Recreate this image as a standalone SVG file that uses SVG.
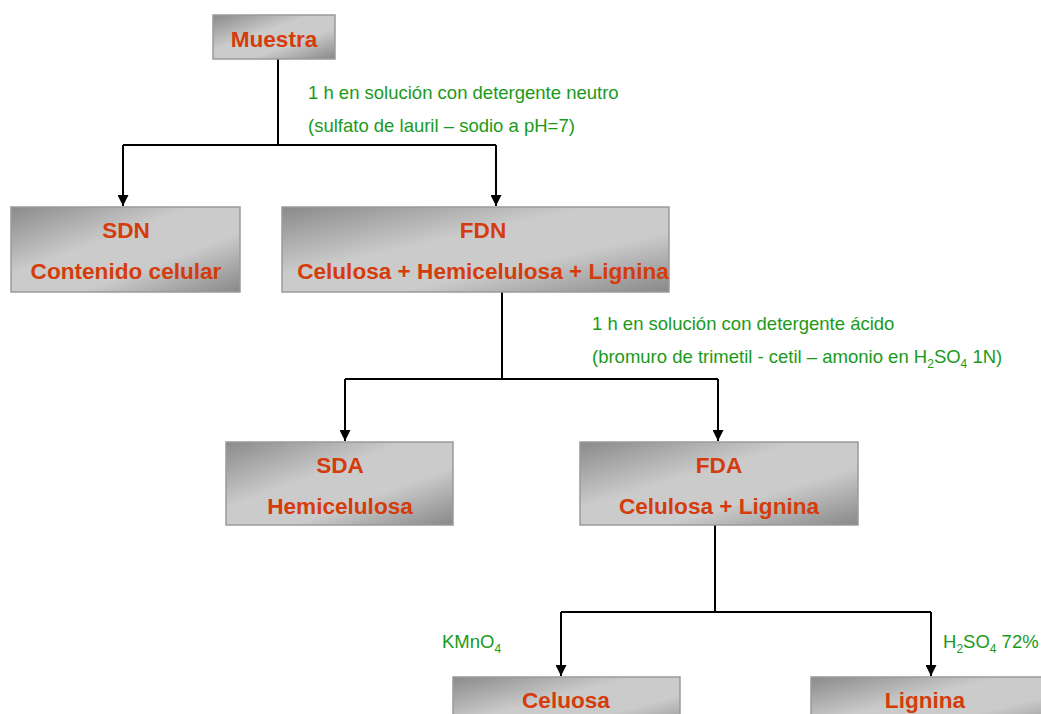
<svg xmlns="http://www.w3.org/2000/svg" width="1041" height="714" viewBox="0 0 1041 714">
<defs>
<linearGradient id="g" x1="0" y1="0" x2="1" y2="1">
<stop offset="0" stop-color="#8a8a8a"/>
<stop offset="0.4" stop-color="#cbcbcb"/>
<stop offset="0.65" stop-color="#cbcbcb"/>
<stop offset="1" stop-color="#888888"/>
</linearGradient>
<marker id="ah" viewBox="0 0 10 10" refX="10" refY="5" markerWidth="11" markerHeight="11" markerUnits="userSpaceOnUse" orient="auto">
<path d="M0,0 L10,5 L0,10 z" fill="#000"/>
</marker>
<style>
.box{fill:url(#g);stroke:#9a9a9a;stroke-width:1.5}
.t{font-family:"Liberation Sans",Arial,sans-serif;font-weight:bold;font-size:22.6px;fill:#d43c0c;text-anchor:middle}
.l{font-family:"Liberation Sans",Arial,sans-serif;font-size:18.5px;fill:#1a9a1a}
.c{fill:none;stroke:#000;stroke-width:2}
</style>
</defs>
<rect width="1041" height="714" fill="#fff"/>
<g id="connectors">
<path class="c" d="M278,59 V145 M123,145 H496"/>
<path class="c" d="M123,145 V206" marker-end="url(#ah)"/>
<path class="c" d="M496,145 V206" marker-end="url(#ah)"/>
<path class="c" d="M502,292 V379 M345,379 H718"/>
<path class="c" d="M345,379 V441" marker-end="url(#ah)"/>
<path class="c" d="M718,379 V441" marker-end="url(#ah)"/>
<path class="c" d="M715,525 V612 M561,612 H931"/>
<path class="c" d="M561,612 V676" marker-end="url(#ah)"/>
<path class="c" d="M931,612 V676" marker-end="url(#ah)"/>
</g>
<g id="labels">
<text class="l" x="308" y="99">1 h en solución con detergente neutro</text>
<text class="l" x="308" y="132">(sulfato de lauril – sodio a pH=7)</text>
<text class="l" x="592" y="330">1 h en solución con detergente ácido</text>
<text class="l" x="592" y="363">(bromuro de trimetil - cetil – amonio en H<tspan font-size="12" dy="5">2</tspan><tspan dy="-5">SO</tspan><tspan font-size="12" dy="5">4</tspan><tspan dy="-5"> 1N)</tspan></text>
<text class="l" x="442" y="648">KMnO<tspan font-size="12" dy="5">4</tspan></text>
<text class="l" x="943" y="648">H<tspan font-size="12" dy="5">2</tspan><tspan dy="-5">SO</tspan><tspan font-size="12" dy="5">4</tspan><tspan dy="-5"> 72%</tspan></text>
</g>
<g id="muestra">
<rect class="box" x="213" y="15" width="122" height="44"/>
<text class="t" x="274" y="47">Muestra</text>
</g>
<g id="sdn">
<rect class="box" x="11" y="207" width="229" height="85"/>
<text class="t" x="126" y="238">SDN</text>
<text class="t" x="126" y="279">Contenido celular</text>
</g>
<g id="fdn">
<rect class="box" x="282" y="207" width="387" height="85"/>
<text class="t" x="483" y="238">FDN</text>
<text class="t" x="483" y="279">Celulosa + Hemicelulosa + Lignina</text>
</g>
<g id="sda">
<rect class="box" x="226" y="442" width="227" height="83"/>
<text class="t" x="340" y="473">SDA</text>
<text class="t" x="340" y="514">Hemicelulosa</text>
</g>
<g id="fda">
<rect class="box" x="580" y="442" width="278" height="83"/>
<text class="t" x="719" y="473">FDA</text>
<text class="t" x="719" y="514">Celulosa + Lignina</text>
</g>
<g id="celuosa">
<rect class="box" x="453" y="677" width="227" height="60"/>
<text class="t" x="566" y="708">Celuosa</text>
</g>
<g id="lignina">
<rect class="box" x="811" y="677" width="240" height="60"/>
<text class="t" x="925" y="708">Lignina</text>
</g>
</svg>
